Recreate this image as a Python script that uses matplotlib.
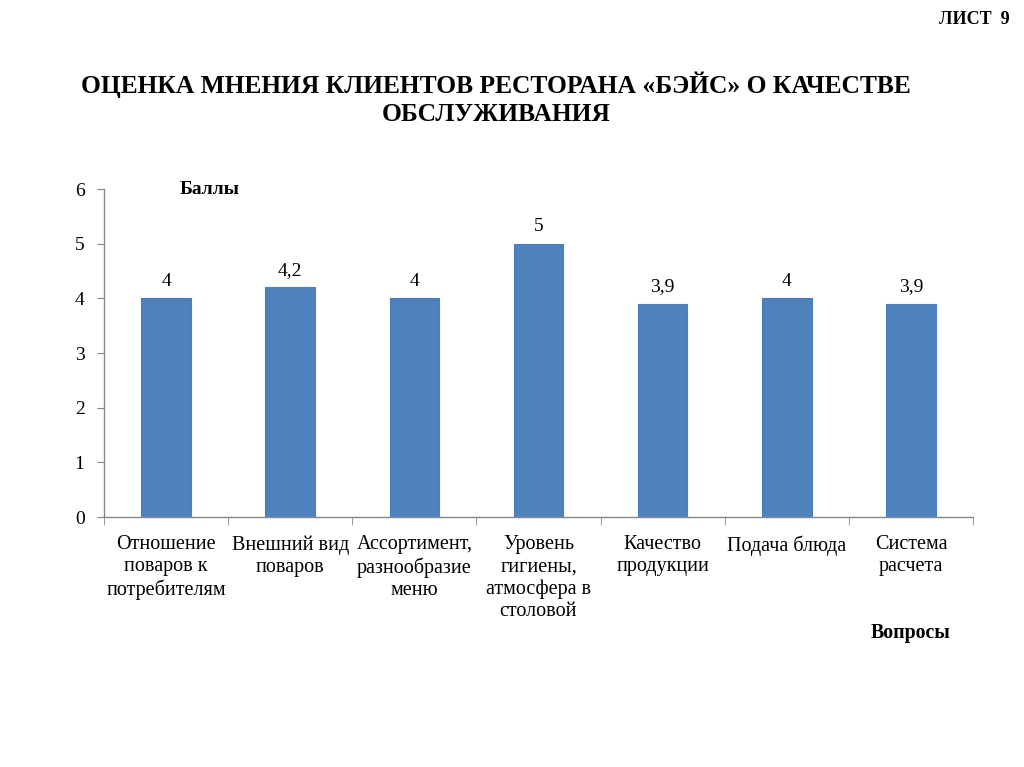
import matplotlib
matplotlib.use('Agg')
import matplotlib.pyplot as plt
from matplotlib.ticker import FixedLocator

plt.rcParams['font.family'] = ['Liberation Serif', 'DejaVu Serif']

categories = [
    'Отношение\nповаров к\nпотребителям',
    'Внешний вид\nповаров',
    'Ассортимент,\nразнообразие\nменю',
    'Уровень\nгигиены,\nатмосфера в\nстоловой',
    'Качество\nпродукции',
    'Подача блюда',
    'Система\nрасчета',
]
values = [4, 4.2, 4, 5, 3.9, 4, 3.9]
value_labels = ['4', '4,2', '4', '5', '3,9', '4', '3,9']
yticks = [0, 1, 2, 3, 4, 5, 6]

axis_color = '#868686'
bar_color = '#4F81BD'

fig = plt.figure(figsize=(10.24, 7.67), dpi=100)
ax = fig.add_axes([104 / 1024, 1 - 517 / 767, 869 / 1024, 328 / 767])

x = list(range(len(categories)))
ax.bar(x, values, width=0.4, color=bar_color, edgecolor='#4A7EBB', linewidth=0.8)

for xi, v, lab in zip(x, values, value_labels):
    ax.annotate(lab, (xi, v), xytext=(0, 6), textcoords='offset points',
                ha='center', va='bottom', fontsize=14)

ax.set_xlim(-0.5, len(categories) - 0.5)
ax.set_ylim(0, 6)
ax.set_yticks(yticks)
ax.tick_params(axis='y', labelsize=14, length=5, color=axis_color, pad=9)

ax.set_xticks(x)
ax.set_xticklabels(categories, fontsize=14.5, linespacing=1.22, va='top')
ax.tick_params(axis='x', which='major', length=0, pad=13)
ax.xaxis.set_minor_locator(FixedLocator([i - 0.5 for i in range(len(categories) + 1)]))
ax.tick_params(axis='x', which='minor', length=6, color=axis_color)

for side in ['top', 'right']:
    ax.spines[side].set_visible(False)
for side in ['left', 'bottom']:
    ax.spines[side].set_color(axis_color)
    ax.spines[side].set_linewidth(1.0)

fig.text(180 / 1024, 1 - 190 / 767, 'Баллы', fontsize=14, fontweight='bold',
         ha='left', va='center')
fig.text(951 / 1024, 1 - 633 / 767, 'Вопросы', fontsize=14.3, fontweight='bold',
         ha='right', va='center')
fig.text(1010 / 1024, 1 - 20 / 767, 'ЛИСТ  9', fontsize=13, fontweight='bold',
         ha='right', va='center')
fig.text(496 / 1024, 1 - 99 / 767, 'ОЦЕНКА МНЕНИЯ КЛИЕНТОВ РЕСТОРАНА «БЭЙС» О КАЧЕСТВЕ\nОБСЛУЖИВАНИЯ',
         fontsize=18.4, fontweight='bold', ha='center', va='center', linespacing=1.25)

fig.savefig('out.png', dpi=100, facecolor='white')
